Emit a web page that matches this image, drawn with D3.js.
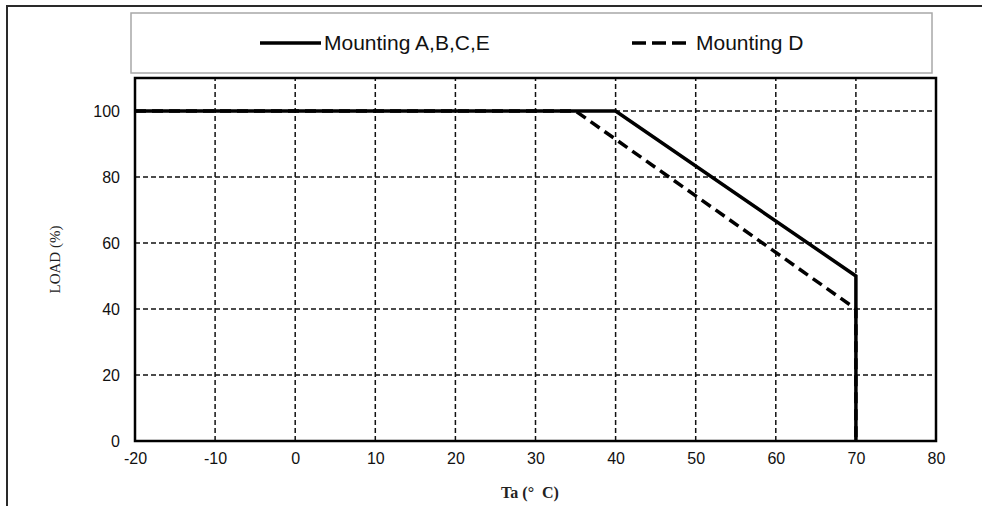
<!DOCTYPE html>
<html>
<head>
<meta charset="utf-8">
<script src="https://cdn.jsdelivr.net/npm/d3@7"></script>
<style>
html,body{margin:0;padding:0;background:#fff;}
svg{display:block;}
</style>
</head>
<body>
<svg id="chart" width="982" height="506"></svg>
<script>
// ---- data ----
const seriesNames = ["Mounting A,B,C,E", "Mounting D"];
const tempA = [-20, 40, 70, 70];
const loadA = [100, 100, 50, 0];
const tempD = [-20, 35, 70, 70];
const loadD = [100, 100, 40, 0];
const xTicks = [-20, -10, 0, 10, 20, 30, 40, 50, 60, 70, 80];
const yTicks = [0, 20, 40, 60, 80, 100];
const xTitle = "Ta (°  C)";
const yTitle = "LOAD (%)";

const svg = d3.select("#chart");

// outer frame
svg.append("rect").attr("x", 7).attr("y", 6).attr("width", 1000).attr("height", 600)
  .attr("fill", "none").attr("stroke", "#2a2a2a").attr("stroke-width", 2);

// legend box
svg.append("rect").attr("x", 131).attr("y", 13).attr("width", 801).attr("height", 60)
  .attr("fill", "#fff").attr("stroke", "#a8a8a8").attr("stroke-width", 1.5);

const x = d3.scaleLinear().domain([-20, 80]).range([135, 936]);
const y = d3.scaleLinear().domain([0, 110]).range([441, 78]);

// grid
const g = svg.append("g");
g.selectAll(".vg").data(xTicks.filter(t => t > -20 && t < 80)).join("line")
  .attr("x1", d => x(d)).attr("x2", d => x(d)).attr("y1", y(0)).attr("y2", y(110))
  .attr("stroke", "#111").attr("stroke-width", 1.5).attr("stroke-dasharray", "5,3");
g.selectAll(".hg").data(yTicks.filter(t => t > 0)).join("line")
  .attr("x1", x(-20)).attr("x2", x(80)).attr("y1", d => y(d)).attr("y2", d => y(d))
  .attr("stroke", "#111").attr("stroke-width", 1.5).attr("stroke-dasharray", "5,3");

// plot border
svg.append("rect").attr("x", x(-20)).attr("y", y(110)).attr("width", x(80) - x(-20)).attr("height", y(0) - y(110))
  .attr("fill", "none").attr("stroke", "#000").attr("stroke-width", 2.5);

// axes labels
const fmt = d => String(d);
const xAxis = d3.axisBottom(x).tickValues(xTicks).tickFormat(fmt).tickSize(0).tickPadding(12);
const xa = svg.append("g").attr("transform", `translate(0,${y(0)})`).call(xAxis);
xa.select(".domain").remove();
xa.selectAll("text").attr("font-family", "Liberation Sans, Arial, sans-serif").attr("font-size", 16).attr("fill", "#111");

const yAxis = d3.axisLeft(y).tickValues(yTicks).tickFormat(fmt).tickSize(0).tickPadding(15);
const ya = svg.append("g").attr("transform", `translate(${x(-20)},0)`).call(yAxis);
ya.select(".domain").remove();
ya.selectAll("text").attr("font-family", "Liberation Sans, Arial, sans-serif").attr("font-size", 16).attr("fill", "#111");

svg.append("text").attr("x", 530).attr("y", 498).attr("text-anchor", "middle")
  .attr("font-family", "Liberation Serif, Times New Roman, serif").attr("font-weight", "bold").attr("font-size", 16)
  .attr("fill", "#222").attr("xml:space", "preserve").style("white-space", "pre").text(xTitle);
svg.append("text").attr("transform", `translate(60,${(y(0) + y(110)) / 2}) rotate(-90)`).attr("text-anchor", "middle")
  .attr("font-family", "Liberation Serif, Times New Roman, serif").attr("font-size", 15)
  .attr("fill", "#222").text(yTitle);

// series
const line = d3.line().x(d => x(d[0])).y(d => y(d[1]));
const dataD = tempD.map((t, i) => [t, loadD[i]]);
const dataA = tempA.map((t, i) => [t, loadA[i]]);
svg.append("path").datum(dataD).attr("d", line).attr("fill", "none").attr("stroke", "#000")
  .attr("stroke-width", 3.5).attr("stroke-dasharray", "11,6");
svg.append("path").datum(dataA).attr("d", line).attr("fill", "none").attr("stroke", "#000")
  .attr("stroke-width", 3.5).attr("stroke-linejoin", "miter");

// legend
svg.append("line").attr("x1", 260).attr("x2", 321).attr("y1", 43).attr("y2", 43)
  .attr("stroke", "#000").attr("stroke-width", 3.5);
svg.append("text").attr("x", 324).attr("y", 50).attr("font-family", "Liberation Sans, Arial, sans-serif")
  .attr("font-size", 21).attr("fill", "#111").text(seriesNames[0]);
svg.append("line").attr("x1", 632).attr("x2", 686).attr("y1", 43).attr("y2", 43)
  .attr("stroke", "#000").attr("stroke-width", 3.5).attr("stroke-dasharray", "14,6");
svg.append("text").attr("x", 696).attr("y", 50).attr("font-family", "Liberation Sans, Arial, sans-serif")
  .attr("font-size", 21).attr("fill", "#111").text(seriesNames[1]);
</script>
</body>
</html>
